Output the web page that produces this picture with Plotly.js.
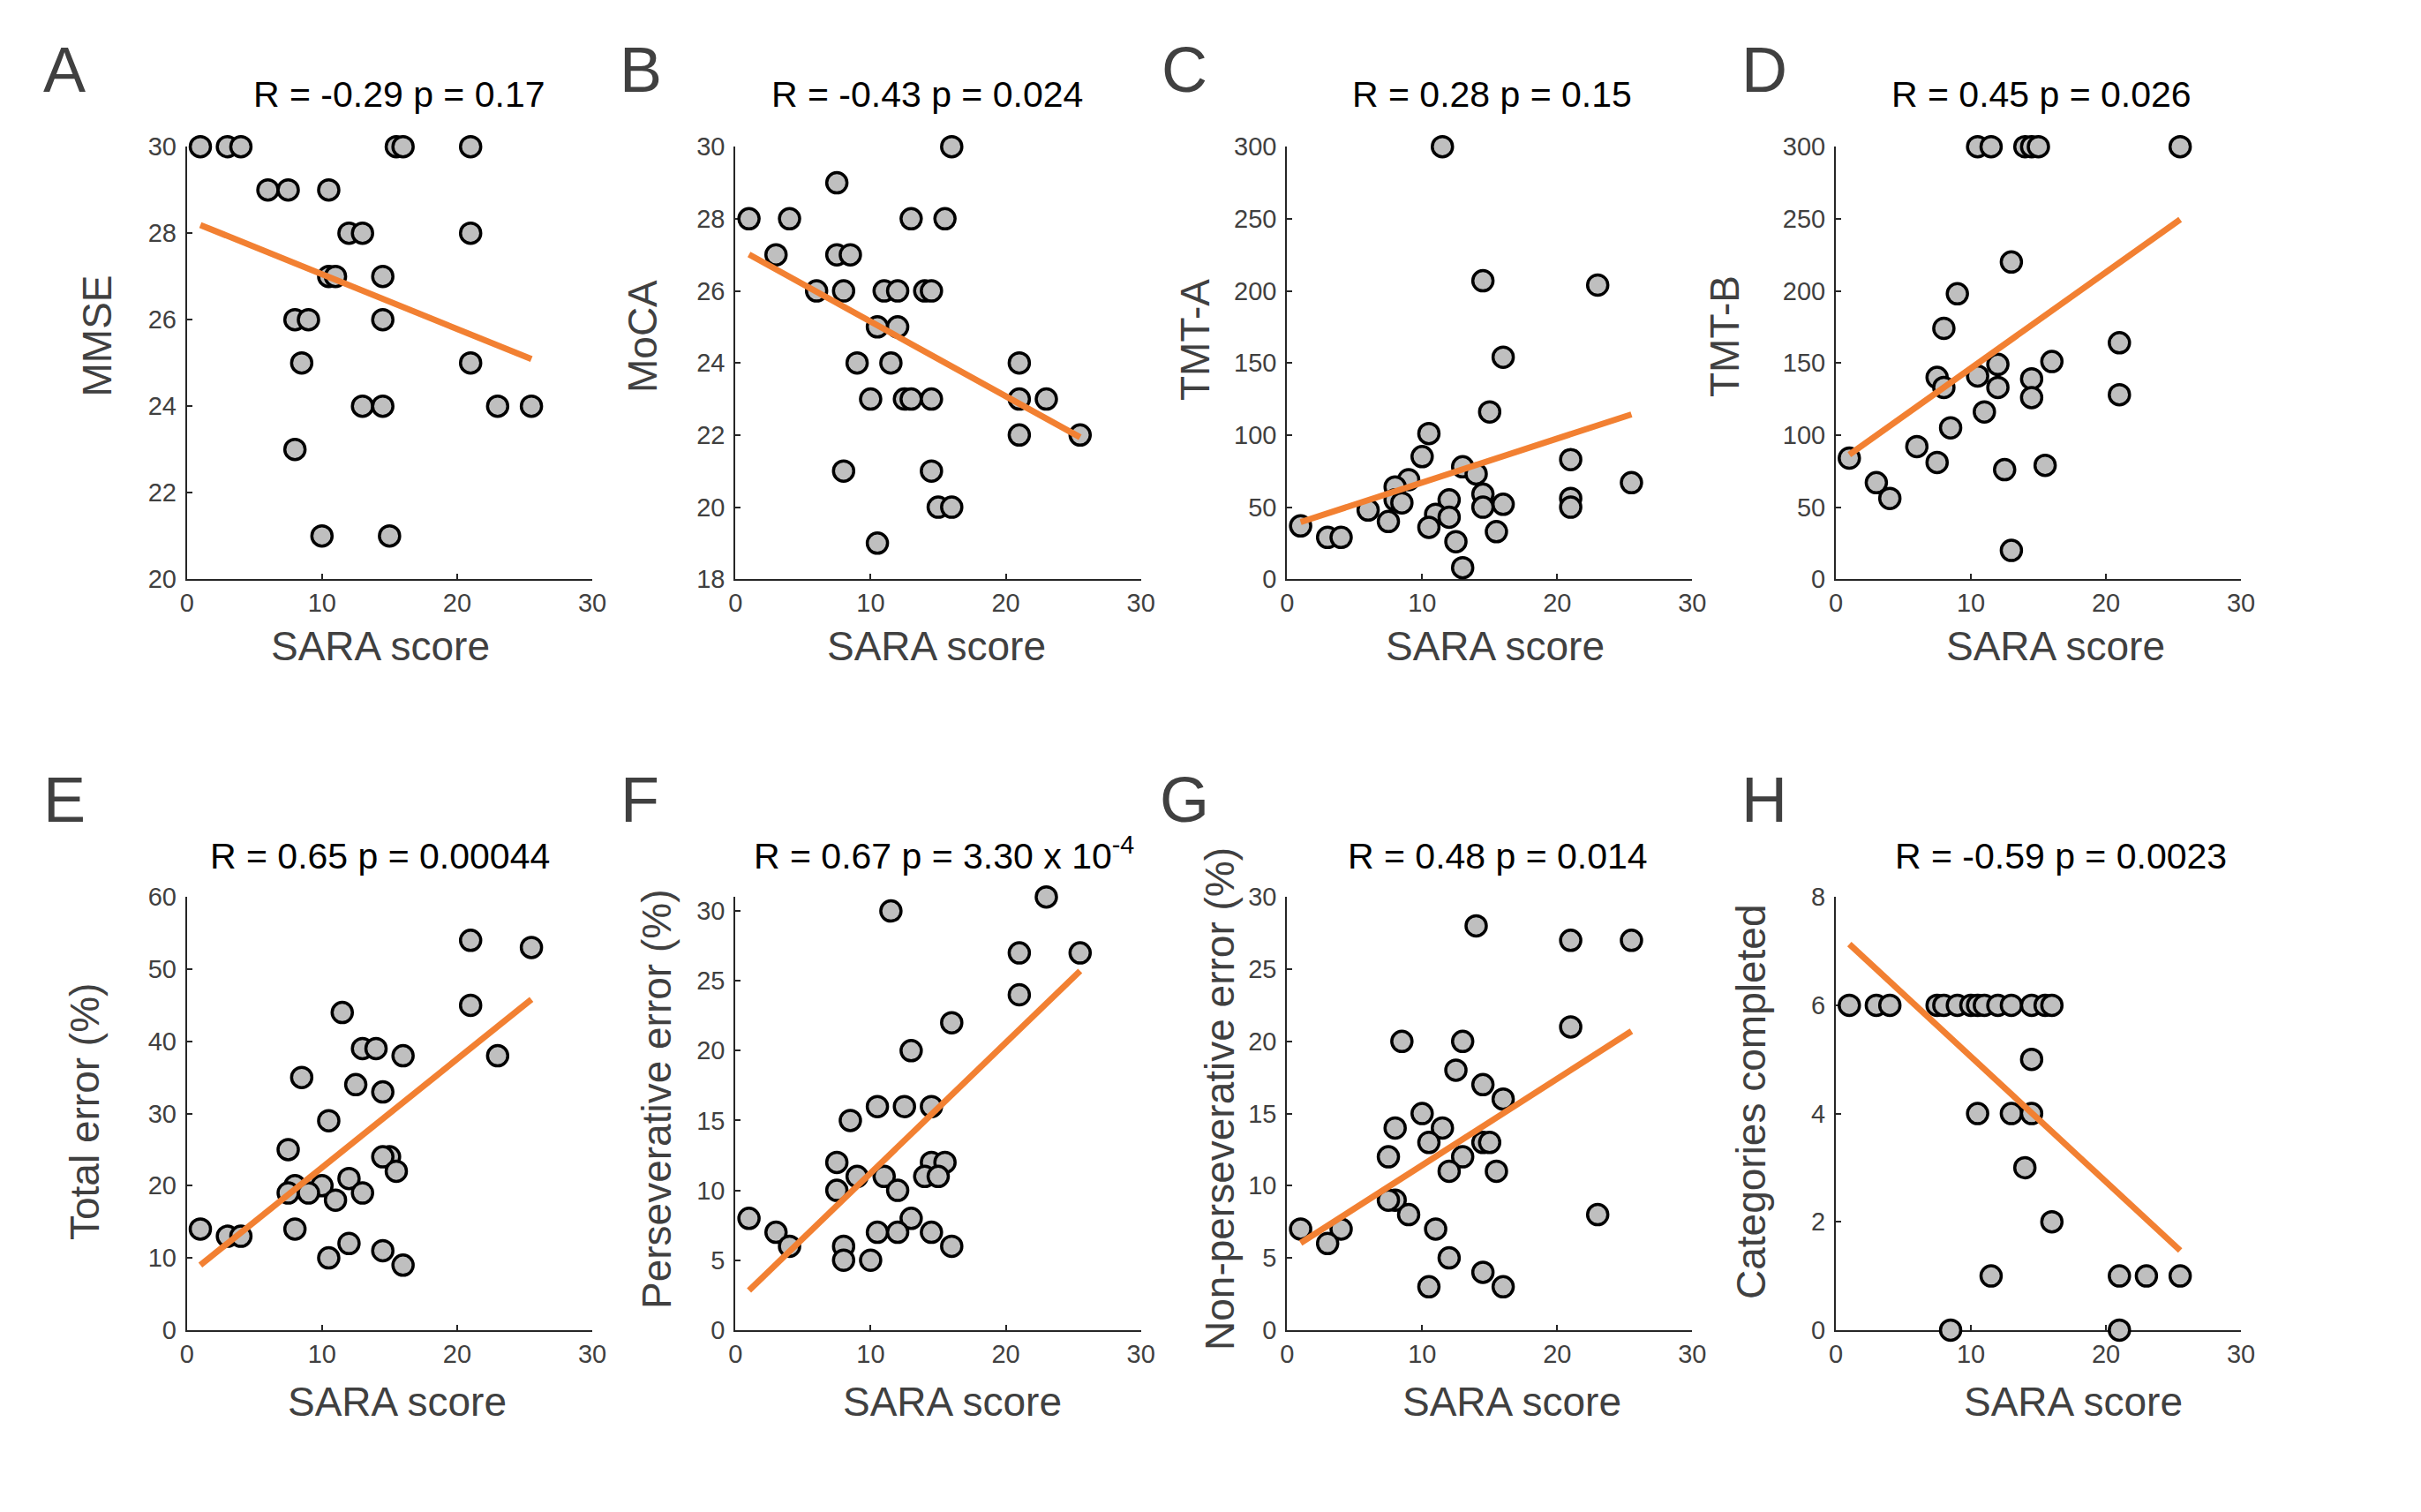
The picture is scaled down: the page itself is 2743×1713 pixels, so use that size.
<!DOCTYPE html>
<html><head><meta charset="utf-8">
<script src="https://cdn.plot.ly/plotly-3.0.1.min.js"></script>
<style>html,body{margin:0;padding:0;background:#fff;} #chart{width:2743px;height:1713px;}</style>
</head><body><div id="chart"></div>
<script>
// ---------------- DATA ----------------
const saraA = [1,3,4,15.5,16,21, 6,7.5,10.5, 12,13,21, 10.5,11,14.5, 8,9,14.5, 8.5,21, 13,14.5,23,25.5, 8, 10,15];
const mmse  = [30,30,30,30,30,30, 29,29,29, 28,28,28, 27,27,27, 26,26,26, 25,25, 24,24,24,24, 23, 21,21];

const saraB = [16, 7.5, 1,4,13,15.5, 3,7.5,8.5, 6,8,11,12,14,14.5, 10.5,12, 9,11.5,21, 10,12.5,13,14.5,21,23, 21,25.5, 8,14.5, 15,16, 10.5];
const moca  = [30, 29, 28,28,28,28, 27,27,27, 26,26,26,26,26,26, 25,25, 24,24,24, 23,23,23,23,23,23, 22,22, 21,21, 20,20, 19];

const saraC = [11.5,14.5,23,16,15,10.5,10,21,13,14,25.5,9,8,8,8.5,14.5,14.5,16,12,21,21,6,11,12,7.5,1,10.5,15.5,3,4,12.5,13];
const tmtA  = [300,207,204,154,116,101,85,83,78,73,67,69,64,55,53,59,50,52,55,56,50,48,45,43,40,37,36,33,29,29,26,8];

const saraD = [10.5,11.5,14,14.5,15,25.5,13,9,8,21,16,12,7.5,10.5,14.5,12,8,14.5,21,11,8.5,6,1,7.5,15.5,12.5,3,4,13];
const tmtB  = [300,300,300,300,300,300,220,198,174,164,151,149,140,141,139,133,133,126,128,116,105,92,84,81,79,76,67,56,20];

const saraE = [21,25.5,11.5,21,13,14,16,23,8.5,12.5,14.5,10.5,7.5,15,14.5,15.5,12,8,10,7.5,9,13,11,1,8,3,4,12,14.5,10.5,16];
const totalErr = [54,53,44,45,39,39,38,38,35,34,33,29,25,24,24,22,21,20,20,19,19,19,18,14,14,13,13,12,11,10,9];

const saraF = [23,11.5,21,25.5,21,16,13,10.5,12.5,14.5,8.5,7.5,14.5,15.5,9,11,14,15,7.5,12,1,13,3,10.5,12,14.5,4,8,16,8,10];
const persErr = [31,30,27,27,24,22,20,16,16,16,15,12,12,12,11,11,11,11,10,10,8,8,7,7,7,7,6,6,6,5,5];

const saraG = [14,21,25.5,21,8.5,13,12.5,14.5,16,10,8,11.5,10.5,14.5,15,7.5,13,12,15.5,8,7.5,9,23,1,4,11,3,12,14.5,10.5,16];
const nonPersErr = [28,27,27,21,20,20,18,17,16,15,14,14,13,13,13,12,12,11,11,9,9,8,8,7,7,7,6,5,4,3,3];

const saraH = [1,3,4,7.5,8,9,10,10.5,11,12,13,14.5,15.5,16, 14.5, 10.5,13,14.5, 14, 16, 11.5,21,23,25.5, 8.5,21];
const categories = [6,6,6,6,6,6,6,6,6,6,6,6,6,6, 5, 4,4,4, 3, 2, 1,1,1,1, 0,0];

// regression line end points (x from min to max SARA)
const fitX = [1, 25.5];
const fitA = [28.19, 25.09];
const fitB = [27.01, 21.94];
const fitC = [39.6, 114.3];
const fitD = [86.4, 249.5];
const fitE = [9.0, 45.8];
const fitF = [2.84, 25.7];
const fitG = [6.03, 20.7];
const fitH = [7.13, 1.47];

const letters = ['A','B','C','D','E','F','G','H'];
const yLabels = ['MMSE','MoCA','TMT-A','TMT-B','Total error (%)','Perseverative error (%)','Non-perseverative error (%)','Categories completed'];
const titles = ['R = -0.29 p = 0.17','R = -0.43 p = 0.024','R = 0.28 p = 0.15','R = 0.45 p = 0.026',
                'R = 0.65 p = 0.00044','R = 0.67 p = 3.30 x 10<sup>-4</sup>','R = 0.48 p = 0.014','R = -0.59 p = 0.0023'];
const xLabel = 'SARA score';
const xTicks = [0,10,20,30];

// ---------------- LAYOUT ----------------
const W = 2743, H = 1713;
const FONT = '"Liberation Sans", Arial, Helvetica, sans-serif';
const AX = '#262626', TXT = '#404040';
const px = v => v / W;
const py = v => 1 - v / H;

const topRow = [166.2, 656.2], botRow = [1016.2, 1506.9];
const cols = [[211.7, 671], [833.3, 1292.7], [1458.3, 1917.3], [2080, 2539]];

const panels = [
  {x: saraA, y: mmse, fy: fitA, yr: [20,30], dt: 2, col: 0, row: topRow, tX: 452, xlX: 431, ylX: 110, ylY: 380.5, lX: 47},
  {x: saraB, y: moca, fy: fitB, yr: [18,30], dt: 2, col: 1, row: topRow, tX: 1050, xlX: 1061, ylX: 728, ylY: 381, lX: 700},
  {x: saraC, y: tmtA, fy: fitC, yr: [0,300], dt: 50, col: 2, row: topRow, tX: 1690, xlX: 1694, ylX: 1354, ylY: 385, lX: 1314},
  {x: saraD, y: tmtB, fy: fitD, yr: [0,300], dt: 50, col: 3, row: topRow, tX: 2313, xlX: 2329, ylX: 1954, ylY: 381, lX: 1971},
  {x: saraE, y: totalErr, fy: fitE, yr: [0,60], dt: 10, col: 0, row: botRow, tX: 430, xlX: 450, ylX: 96, ylY: 1260, lX: 47},
  {x: saraF, y: persErr, fy: fitF, yr: [0,31], dt: 5, col: 1, row: botRow, tX: 1069, xlX: 1079, ylX: 744, ylY: 1246, lX: 701},
  {x: saraG, y: nonPersErr, fy: fitG, yr: [0,30], dt: 5, col: 2, row: botRow, tX: 1697, xlX: 1713, ylX: 1382, ylY: 1245, lX: 1312},
  {x: saraH, y: categories, fy: fitH, yr: [0,8], dt: 2, col: 3, row: botRow, tX: 2335, xlX: 2349, ylX: 1984, ylY: 1249, lX: 1971}
];

const traces = [];
const layout = {
  width: W, height: H, margin: {l: 0, r: 0, t: 0, b: 0},
  paper_bgcolor: '#fff', plot_bgcolor: 'rgba(0,0,0,0)',
  showlegend: false, font: {family: FONT, color: TXT},
  annotations: []
};

panels.forEach((p, i) => {
  const n = i === 0 ? '' : String(i + 1);
  const xa = 'x' + n, ya = 'y' + n;
  traces.push({
    type: 'scatter', mode: 'markers', x: p.x, y: p.y, xaxis: xa, yaxis: ya,
    cliponaxis: false, hoverinfo: 'skip',
    marker: {size: 23, color: '#BFBFBF', line: {color: '#000', width: 3.5}}
  });
  traces.push({
    type: 'scatter', mode: 'lines', x: fitX, y: p.fy, xaxis: xa, yaxis: ya,
    cliponaxis: false, hoverinfo: 'skip',
    line: {color: '#F28032', width: 7}
  });
  const c = cols[p.col];
  const common = {
    showline: true, linecolor: AX, linewidth: 2, mirror: false,
    ticks: 'inside', ticklen: 6, tickwidth: 2, tickcolor: AX,
    showgrid: false, zeroline: false, layer: 'below traces', fixedrange: true,
    tickfont: {family: FONT, size: 29, color: TXT}
  };
  layout['xaxis' + n] = Object.assign({}, common, {
    domain: [px(c[0]), px(c[1])], range: [0, 30], tickvals: xTicks, anchor: ya
  });
  layout['yaxis' + n] = Object.assign({}, common, {
    domain: [py(p.row[1]), py(p.row[0])], range: p.yr, tick0: 0, dtick: p.dt, anchor: xa,
    ticklabelstandoff: 4
  });
  const baseTitle = p.row === topRow ? 122 : 985;
  const baseXlab = p.row === topRow ? 749 : 1605;
  const baseLetter = p.row === topRow ? 105 : 932;
  layout.annotations.push({
    xref: 'paper', yref: 'paper', x: px(p.tX), y: py(baseTitle + 0.212 * 41 + 1),
    xanchor: 'center', yanchor: 'bottom', showarrow: false,
    text: titles[i], font: {family: FONT, size: 41, color: '#000'}
  });
  layout.annotations.push({
    xref: 'paper', yref: 'paper', x: px(p.xlX), y: py(baseXlab + 0.212 * 46 + 1),
    xanchor: 'center', yanchor: 'bottom', showarrow: false,
    text: xLabel, font: {family: FONT, size: 46, color: TXT}
  });
  layout.annotations.push({
    xref: 'paper', yref: 'paper', x: px(p.ylX), y: py(p.ylY),
    xanchor: 'center', yanchor: 'middle', showarrow: false, textangle: -90,
    text: yLabels[i], font: {family: FONT, size: 46, color: TXT}
  });
  layout.annotations.push({
    xref: 'paper', yref: 'paper', x: px(p.lX), y: py(baseLetter + 0.212 * 72 + 1),
    xanchor: 'left', yanchor: 'bottom', showarrow: false,
    text: letters[i], font: {family: FONT, size: 72, color: TXT}
  });
});

Plotly.newPlot('chart', traces, layout, {staticPlot: true, displayModeBar: false});
</script>
</body></html>
